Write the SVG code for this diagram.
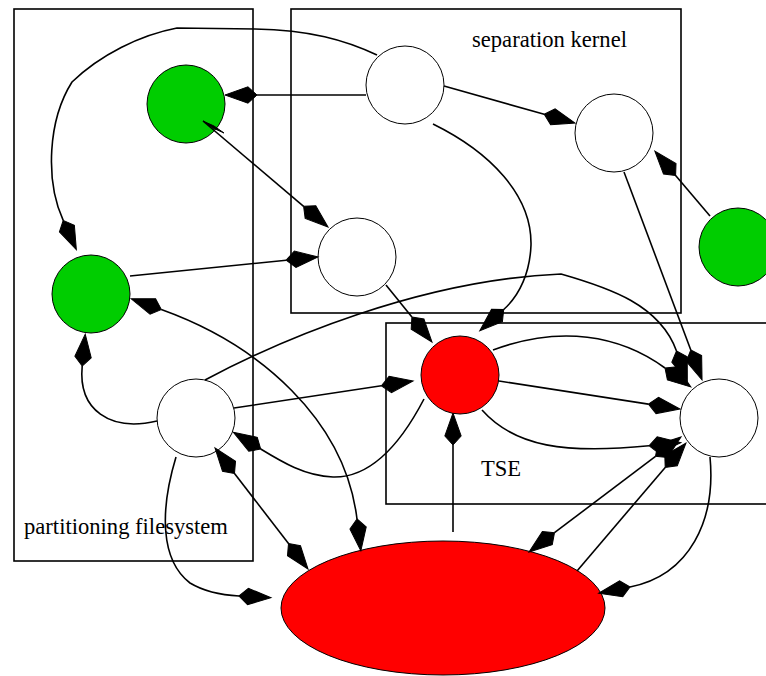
<svg xmlns="http://www.w3.org/2000/svg" width="766" height="676" viewBox="0 0 766 676">
<style>
.cl{fill:none;stroke:#000;stroke-width:1.6}
.lbl{font-family:"Liberation Serif","Times New Roman",serif;font-size:22.6px;fill:#000}
.n{stroke:#000;stroke-width:1}
.w{fill:#fff}
.g{fill:#00cd00}
.r{fill:#ff0000}
.e{fill:none;stroke:#000;stroke-width:1.6}
.a{marker-end:url(#d)}
.b{marker-start:url(#d)}
</style>
<defs>
<marker id="d" viewBox="-2 -10 38 20" refX="0" refY="0" markerWidth="38" markerHeight="20" markerUnits="userSpaceOnUse" orient="auto-start-reverse">
<path d="M0,0 L9,-8.2 L32,0 L9,8.2 Z" fill="#000" stroke="#000" stroke-width="1"/>
</marker>
</defs>
<rect width="766" height="676" fill="#fff"/>
<g id="clusters">
<g id="cluster_partition">
<rect class="cl" x="14" y="9" width="239" height="552"/>
<text class="lbl" x="24" y="534">partitioning filesystem</text>
</g>
<g id="cluster_sk">
<rect class="cl" x="291" y="9" width="390" height="304"/>
<text class="lbl" x="472" y="47">separation kernel</text>
</g>
<g id="cluster_tse">
<rect class="cl" x="386" y="323" width="400" height="181"/>
<text class="lbl" x="481" y="476">TSE</text>
</g>
</g>
<g id="nodes">
<g id="n1"><circle class="n w" cx="405" cy="85" r="39"/></g>
<g id="n2"><circle class="n w" cx="614" cy="133" r="39"/></g>
<g id="n3"><circle class="n w" cx="357" cy="257" r="39"/></g>
<g id="g1"><circle class="n g" cx="186" cy="104" r="39"/></g>
<g id="g2"><circle class="n g" cx="91" cy="294" r="39"/></g>
<g id="g3"><circle class="n g" cx="738" cy="247" r="39"/></g>
<g id="n4"><circle class="n w" cx="196" cy="418" r="39"/></g>
<g id="red"><circle class="n r" cx="460" cy="375" r="39"/></g>
<g id="n5"><circle class="n w" cx="719" cy="418" r="39"/></g>
<g id="ellipse"><ellipse class="n r" cx="443" cy="608" rx="162" ry="67"/></g>
</g>
<g id="edges">
<path class="e a" d="M366,95 L257,95"/>
<path class="e a" d="M444,86 L544.2,114.3"/>
<path class="e a" d="M433,124 C490,152 532,195 531,245 C530,272 520,295 503.7,309.5"/>
<path class="e a" d="M203,121 L303.6,206.3"/>
<path d="M203,121 L214,126 L224,133 L213,128 Z" fill="#000" stroke="#000" stroke-width="1"/>
<path class="e a" d="M130,276 L286.2,260.2"/>
<path class="e a" d="M377,55 C345,40 310,30 255,29 L177,28 C140,35 100,55 72,82 C48,120 45,180 63.2,220.4"/>
<path class="e a" d="M710,216 L675.6,175.6"/>
<path class="e a" d="M624,172 L690.8,350"/>
<path class="e a" d="M205,380 C280,340 420,280 561,274 C610,288 660,305 676.5,351"/>
<path class="e a" d="M386,285 L411.9,317.1"/>
<path class="e a" d="M234,408 L381.4,385.8"/>
<path class="e a" d="M424,399 C400,445 370,478 333,477 C305,476 282,462 260.7,449"/>
<path class="e a" d="M157,421 C110,432 78,410 82.2,366"/>
<path class="e a b" d="M161.3,309.6 C260,345 345,420 357,519"/>
<path class="e a b" d="M234.5,473.4 L288.5,543.6"/>
<path class="e a" d="M176,457 C160,510 160,560 190,583 C205,592 220,595 239,596"/>
<path class="e a" d="M453,532 L453,445"/>
<path class="e a" d="M493,350 C560,325 620,335 665,368"/>
<path class="e a" d="M499,381 L648.4,404.1"/>
<path class="e a" d="M482,410 C515,447 565,454 649,445.8"/>
<path class="e a b" d="M554.5,532.7 L655.5,456.3"/>
<path class="e a" d="M577,571 L665.2,467.4"/>
<path class="e a" d="M710,457 C716,520 690,575 630,587"/>
</g>
</svg>
